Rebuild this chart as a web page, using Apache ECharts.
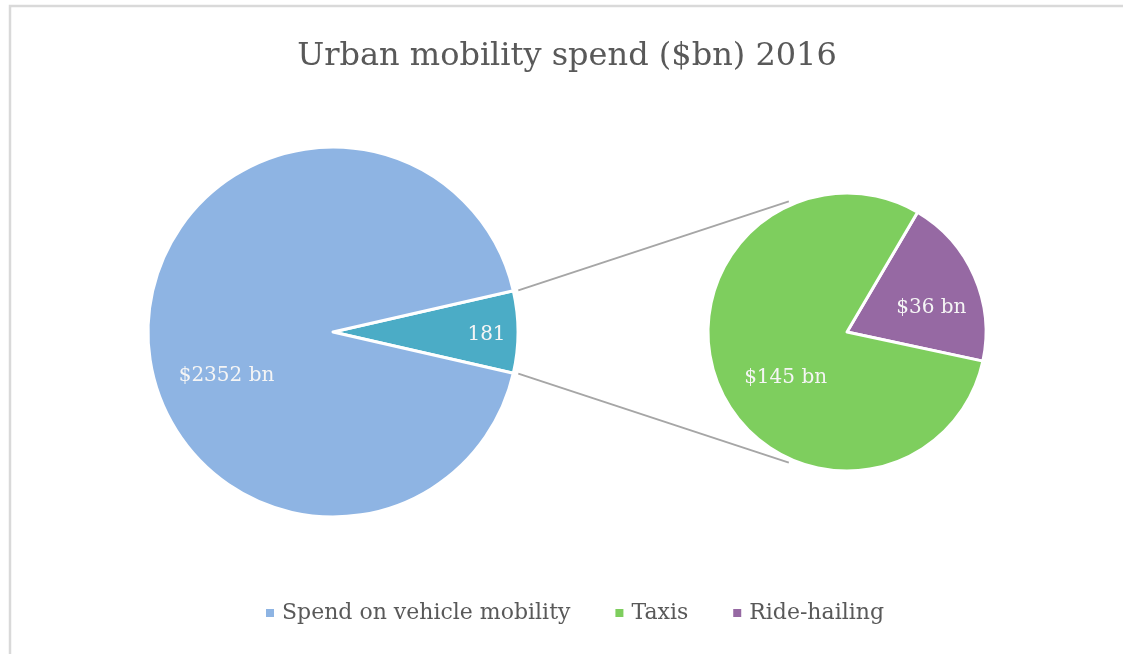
<!DOCTYPE html>
<html>
<head>
<meta charset="utf-8">
<script src="https://cdn.jsdelivr.net/npm/echarts@6/dist/echarts.min.js"></script>
<style>
  html, body { margin: 0; padding: 0; background: #fff; }
  #main { width: 1123px; height: 654px; }
</style>
</head>
<body>
<div id="main"></div>
<script>
// values ($bn)
var mainNames = ['Spend on vehicle mobility'];
var mainValues = [2352];
var splitNames = ['Ride-hailing', 'Taxis'];
var splitValues = [36, 145];

var otherTotal = splitValues.reduce(function (a, b) { return a + b; }, 0); // 181

// layout
var leftC = [333, 332], leftR = 185;
var rightC = [847, 332], rightR = 139;
var font = 'DejaVu Serif';

// half angle of the "other" wedge, so it points straight right
var half = otherTotal / (otherTotal + mainValues[0]) * 180;
var rightStart = 59.5;
var joinAngle = 114;

function rad(d) { return d * Math.PI / 180; }
function pt(c, r, a) { return [c[0] + r * Math.cos(rad(a)), c[1] - r * Math.sin(rad(a))]; }

var myChart = echarts.init(document.getElementById('main'));

var option = {
    animation: false,
    textStyle: { fontFamily: font },
    title: {
        text: 'Urban mobility spend ($bn) 2016',
        left: 562,
        textAlign: 'center',
        top: 36,
        textStyle: { fontFamily: font, fontSize: 32, fontWeight: 'normal', color: '#595959' }
    },
    color: ['#8EB4E3', '#7ECE5E', '#9669A3'],
    legend: {
        data: ['Spend on vehicle mobility', 'Taxis', 'Ride-hailing'],
        left: 259,
        top: 597,
        icon: 'rect',
        itemWidth: 10,
        itemHeight: 10,
        itemGap: 43,
        textStyle: { fontFamily: font, fontSize: 22, color: '#595959', padding: [0, 0, 0, 2] }
    },
    graphic: [
        {
            type: 'rect',
            shape: { x: 10, y: 6, width: 1300, height: 800 },
            style: { fill: 'none', stroke: '#D9D9D9', lineWidth: 2.5 },
            silent: true
        },
        {
            type: 'line',
            shape: (function () {
                var a = pt(leftC, leftR + 2, half), b = pt(rightC, rightR + 4, joinAngle);
                return { x1: a[0] + 3, y1: a[1], x2: b[0], y2: b[1] };
            })(),
            style: { stroke: '#A6A6A6', lineWidth: 2 },
            z: 10
        },
        {
            type: 'line',
            shape: (function () {
                var a = pt(leftC, leftR + 2, -half), b = pt(rightC, rightR + 4, -joinAngle);
                return { x1: a[0] + 3, y1: a[1], x2: b[0], y2: b[1] };
            })(),
            style: { stroke: '#A6A6A6', lineWidth: 2 },
            z: 10
        }
    ],
    series: [
        {
            name: 'Urban mobility spend',
            type: 'pie',
            center: leftC,
            radius: leftR,
            startAngle: half,
            clockwise: true,
            avoidLabelOverlap: false,
            itemStyle: { borderColor: '#fff', borderWidth: 3 },
            label: {
                show: true,
                position: 'inside',
                fontFamily: font,
                fontSize: 20,
                color: '#F5F5F5'
            },
            labelLine: { show: false },
            emphasis: { disabled: true },
            data: [
                {
                    name: 'Other',
                    value: otherTotal,
                    itemStyle: { color: '#4BACC6' },
                    label: { formatter: '{c}', offset: [58, 3] }
                },
                {
                    name: mainNames[0],
                    value: mainValues[0],
                    itemStyle: { color: '#8EB4E3' },
                    label: { formatter: '${c} bn', offset: [-11, 44] }
                }
            ]
        },
        {
            name: 'Split',
            type: 'pie',
            center: rightC,
            radius: rightR,
            startAngle: rightStart,
            clockwise: true,
            avoidLabelOverlap: false,
            itemStyle: { borderColor: '#fff', borderWidth: 3 },
            label: {
                show: true,
                position: 'inside',
                fontFamily: font,
                fontSize: 20,
                color: '#F5F5F5',
                formatter: '${c} bn'
            },
            labelLine: { show: false },
            emphasis: { disabled: true },
            data: [
                {
                    name: splitNames[0],
                    value: splitValues[0],
                    itemStyle: { color: '#9669A3' },
                    label: { offset: [18, 5] }
                },
                {
                    name: splitNames[1],
                    value: splitValues[1],
                    itemStyle: { color: '#7ECE5E' },
                    label: { offset: [5, 17] }
                }
            ]
        }
    ]
};

myChart.setOption(option);
</script>
</body>
</html>
